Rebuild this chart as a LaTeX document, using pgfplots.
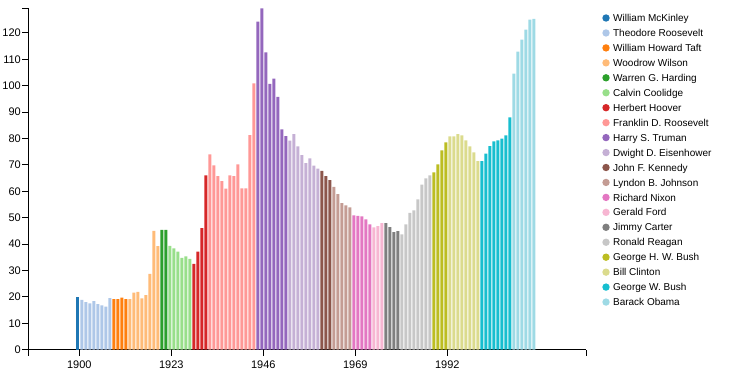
\documentclass[border=0pt]{standalone}
\usepackage{pgfplots}
\pgfplotsset{compat=1.18}
\usepackage{fontspec}
\setmainfont{Liberation Sans}
\definecolor{c1}{HTML}{1F77B4}
\definecolor{c2}{HTML}{AEC7E8}
\definecolor{c3}{HTML}{FF7F0E}
\definecolor{c4}{HTML}{FFBB78}
\definecolor{c5}{HTML}{2CA02C}
\definecolor{c6}{HTML}{98DF8A}
\definecolor{c7}{HTML}{D62728}
\definecolor{c8}{HTML}{FF9896}
\definecolor{c9}{HTML}{9467BD}
\definecolor{c10}{HTML}{C5B0D5}
\definecolor{c11}{HTML}{8C564B}
\definecolor{c12}{HTML}{C49C94}
\definecolor{c13}{HTML}{E377C2}
\definecolor{c14}{HTML}{F7B6D2}
\definecolor{c15}{HTML}{7F7F7F}
\definecolor{c16}{HTML}{C7C7C7}
\definecolor{c17}{HTML}{BCBD22}
\definecolor{c18}{HTML}{DBDB8D}
\definecolor{c19}{HTML}{17BECF}
\definecolor{c20}{HTML}{9EDAE5}
\begin{document}
\begin{tikzpicture}
\path[use as bounding box] (0,0) rectangle (737bp,383bp);
\begin{axis}[
  at={(28.3bp,33.3bp)}, anchor=south west,
  scale only axis, width=558bp, height=341.4bp,
  xmin=1887.25, xmax=2026.75, ymin=0, ymax=129.3,
  axis x line*=bottom, axis y line*=left,
  axis line style={line width=1bp, black, -},
  xtick={1900,1923,1946,1969,1992},
  xticklabels={1900,1923,1946,1969,1992},
  extra x ticks={1887.25,2026.75}, extra x tick labels={},
  ytick={0,10,20,30,40,50,60,70,80,90,100,110,120},
  extra y ticks={129.3}, extra y tick labels={},
  tick align=outside, major tick length=6bp,
  tick style={line width=1bp, black},
  /pgf/number format/assume math mode=true,
  ticklabel style={font=\fontsize{11bp}{13bp}\selectfont, text=black},
  xticklabel style={anchor=base, inner sep=0pt, yshift=-12.3bp},
  yticklabel style={anchor=east, inner sep=0pt, xshift=-1.3bp},
  legend cell align=left,
  legend style={draw=none, fill=none, at={(axis description cs:1.0287,0.98623)}, anchor=north west,
    inner sep=0pt, outer sep=0pt, row sep=4.95bp, column sep=3.4bp,
    font=\fontsize{10bp}{12bp}\selectfont,
    nodes={inner sep=0pt, text height=8.6bp, text depth=1.4bp}},
  legend image code/.code={\fill[#1] (3.5bp,0bp) circle (3.7bp);},
  every axis plot/.append style={ybar, bar width=3bp, bar shift=-1.5bp, draw=none},
]
\addplot[fill=c1] coordinates {(1900,19.9)};
\addlegendentry{William McKinley}
\addplot[fill=c2] coordinates {(1901,18.9)(1902,18.0)(1903,17.5)(1904,18.4)(1905,17.3)(1906,16.8)(1907,16.3)(1908,19.5)};
\addlegendentry{Theodore Roosevelt}
\addplot[fill=c3] coordinates {(1909,19.2)(1910,19.2)(1911,19.7)(1912,19.2)};
\addlegendentry{William Howard Taft}
\addplot[fill=c4] coordinates {(1913,19.2)(1914,21.6)(1915,21.9)(1916,19.4)(1917,20.7)(1918,28.7)(1919,45.0)(1920,39.2)};
\addlegendentry{Woodrow Wilson}
\addplot[fill=c5] coordinates {(1921,45.4)(1922,45.4)};
\addlegendentry{Warren G. Harding}
\addplot[fill=c6] coordinates {(1923,39.3)(1924,38.4)(1925,37.1)(1926,34.8)(1927,35.3)(1928,34.4)};
\addlegendentry{Calvin Coolidge}
\addplot[fill=c7] coordinates {(1929,32.5)(1930,37.1)(1931,46.0)(1932,66.0)};
\addlegendentry{Herbert Hoover}
\addplot[fill=c8] coordinates {(1933,74.0)(1934,69.8)(1935,65.7)(1936,63.8)(1937,61.0)(1938,66.0)(1939,65.7)(1940,70.2)(1941,61.1)(1942,61.1)(1943,81.3)(1944,100.9)};
\addlegendentry{Franklin D. Roosevelt}
\addplot[fill=c9] coordinates {(1945,124.3)(1946,129.3)(1947,112.6)(1948,100.7)(1949,102.7)(1950,95.8)(1951,83.4)(1952,80.9)};
\addlegendentry{Harry S. Truman}
\addplot[fill=c10] coordinates {(1953,79.2)(1954,81.6)(1955,77.0)(1956,73.7)(1957,70.7)(1958,72.5)(1959,69.7)(1960,68.6)};
\addlegendentry{Dwight D. Eisenhower}
\addplot[fill=c11] coordinates {(1961,67.7)(1962,65.7)(1963,64.2)};
\addlegendentry{John F. Kennedy}
\addplot[fill=c12] coordinates {(1964,61.7)(1965,58.9)(1966,55.5)(1967,54.7)(1968,53.9)};
\addlegendentry{Lyndon B. Johnson}
\addplot[fill=c13] coordinates {(1969,50.9)(1970,50.7)(1971,50.5)(1972,49.4)(1973,47.5)};
\addlegendentry{Richard Nixon}
\addplot[fill=c14] coordinates {(1974,46.3)(1975,46.8)(1976,47.9)};
\addlegendentry{Gerald Ford}
\addplot[fill=c15] coordinates {(1977,47.9)(1978,46.4)(1979,44.5)(1980,44.9)};
\addlegendentry{Jimmy Carter}
\addplot[fill=c16] coordinates {(1981,43.7)(1982,47.5)(1983,51.8)(1984,52.8)(1985,56.9)(1986,62.5)(1987,64.9)(1988,66.0)};
\addlegendentry{Ronald Reagan}
\addplot[fill=c17] coordinates {(1989,67.2)(1990,70.2)(1991,75.5)(1992,78.5)};
\addlegendentry{George H. W. Bush}
\addplot[fill=c18] coordinates {(1993,80.8)(1994,80.8)(1995,81.6)(1996,81.2)(1997,79.3)(1998,77.0)(1999,74.7)(2000,71.4)};
\addlegendentry{Bill Clinton}
\addplot[fill=c19] coordinates {(2001,71.4)(2002,74.3)(2003,77.1)(2004,78.9)(2005,79.3)(2006,79.9)(2007,81.2)(2008,88.0)};
\addlegendentry{George W. Bush}
\addplot[fill=c20] coordinates {(2009,104.6)(2010,112.9)(2011,117.4)(2012,121.2)(2013,125.0)(2014,125.3)};
\addlegendentry{Barack Obama}
\end{axis}
\end{tikzpicture}
\end{document}
